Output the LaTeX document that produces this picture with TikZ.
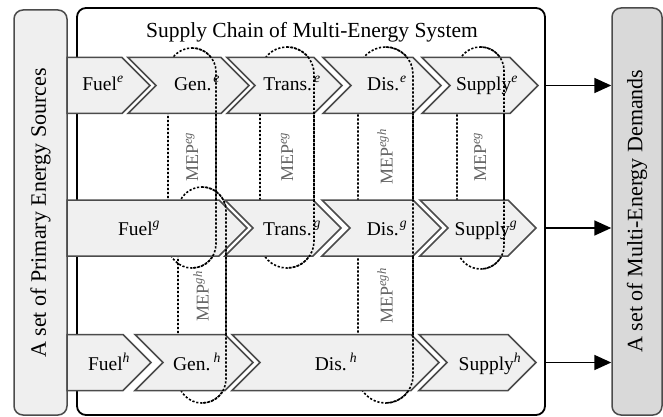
\documentclass[tikz,border=0pt]{standalone}
\usepackage{fontspec}
\setmainfont{Liberation Serif}
\usetikzlibrary{arrows.meta}
\definecolor{chevfill}{RGB}{240,240,240}
\definecolor{chevline}{RGB}{75,75,75}
\definecolor{srcfill}{RGB}{239,239,239}
\definecolor{demfill}{RGB}{217,217,217}
\definecolor{mepgray}{RGB}{100,100,100}
\newcommand\supit[1]{\textsuperscript{\itshape #1}}
% L R T B
\newcommand\chevnotch[4]{%
  \filldraw[chev] (#1,#3) -- (#2,#3) -- ({#2+(#4-#3)/2},{(#3+#4)/2}) -- (#2,#4) -- (#1,#4) -- ({#1+(#4-#3)/2},{(#3+#4)/2}) -- cycle;}
\newcommand\chevflat[4]{%
  \filldraw[chev] (#1,#3) -- (#2,#3) -- ({#2+(#4-#3)/2},{(#3+#4)/2}) -- (#2,#4) -- (#1,#4) -- cycle;}
% x1 x2 y1 y2 r
\newcommand\mepfull[5]{%
  \draw[mep, rounded corners=#5pt] (#1,#3) rectangle (#2,#4);}
\newcommand\mephalf[5]{%
  \draw[mep, rounded corners=#5pt] ({(#1+#2)/2},#3) -- (#2,#3) -- (#2,#4) -- ({(#1+#2)/2},#4);}
\begin{document}
\begin{tikzpicture}[x=1pt,y=-1pt,
  chev/.style={fill=chevfill, draw=chevline, line width=1.5pt, line join=miter},
  mep/.style={draw=black, line width=1.6pt, dash pattern=on 2.2pt off 1.8pt},
  ctext/.style={font=\fontsize{19.5}{22}\selectfont, inner sep=0pt, anchor=base},
  meplabel/.style={rotate=90, text=mepgray, font=\fontsize{18}{20}\selectfont, inner sep=0pt},
  sidetext/.style={rotate=90, font=\fontsize{22}{24}\selectfont, inner sep=0pt},
  sidebox/.style={draw=chevline, line width=1.5pt, rounded corners=9pt, inner sep=0pt},
  mainbox/.style={draw=black, fill=white, line width=1.8pt, rounded corners=9pt, inner sep=0pt},
  arr/.style={-{Triangle[length=17pt,width=15pt]}, line width=1.8pt}]
\useasboundingbox (0,0) rectangle (663,417);
% boxes
\node[mainbox, minimum width=468pt, minimum height=407pt] (sc) at (311,211.5) {};
\node[sidebox, fill=srcfill, minimum width=53pt, minimum height=405pt] (src) at (40.5,212.5) {};
\node[sidebox, fill=demfill, minimum width=50pt, minimum height=407pt] (dem) at (637,211.5) {};
\node[font=\fontsize{21.5}{24}\selectfont, inner sep=0pt, anchor=base] (title) at (312,37.5) {Supply Chain of Multi-Energy System};
% MEP regions (full, behind)
\mepfull{168}{216}{48}{268}{23.9}
\mepfull{260}{314}{47}{268}{26.9}
\mepfull{358}{413}{47}{403}{27.4}
\mepfull{457}{504}{47}{269}{23.4}
\mepfull{178}{226}{187}{403}{23.9}
% row 1
\chevflat{67}{122}{57.5}{113.5}
\chevnotch{128}{221}{57.5}{113.5}
\chevnotch{227}{314}{57.5}{113.5}
\chevnotch{323}{413}{57.5}{113.5}
\chevnotch{422}{510}{57.5}{113.5}
% row 2
\chevflat{67}{219}{200}{256}
\chevnotch{225}{313}{200}{256}
\chevnotch{322}{413}{200}{256}
\chevnotch{420}{508}{200}{256}
% row 3
\chevflat{67}{123}{334.5}{390.5}
\chevnotch{135}{225}{334.5}{390.5}
\chevnotch{232}{411}{334.5}{390.5}
\chevnotch{419}{508}{334.5}{390.5}
% MEP regions (right halves, in front)
\mephalf{168}{216}{48}{268}{23.9}
\mephalf{260}{314}{47}{268}{26.9}
\mephalf{358}{413}{47}{403}{27.4}
\mephalf{457}{504}{47}{269}{23.4}
\mephalf{178}{226}{187}{403}{23.9}
% chevron texts
\node[ctext] (fe) at (103,90.5) {Fuel\supit{e}};
\node[ctext] (ge) at (197,90.5) {Gen.\kern2pt\supit{e}};
\node[ctext] (te) at (292,90.5) {Trans.\kern2pt\supit{e}};
\node[ctext] (de) at (387,90.5) {Dis.\kern1pt\supit{e}};
\node[ctext] (se) at (487,90.5) {Supply\supit{e}};
\node[ctext] (fg) at (139,235.5) {Fuel\supit{g}};
\node[ctext] (tg) at (292,235.5) {Trans.\kern2pt\supit{g}};
\node[ctext] (dg) at (387,235.5) {Dis.\kern1pt\supit{g}};
\node[ctext] (sg) at (486,235.5) {Supply\supit{g}};
\node[ctext] (fh) at (109,370) {Fuel\supit{h}};
\node[ctext] (gh) at (197,370) {Gen.\kern3pt\supit{h}};
\node[ctext] (dh) at (336,370) {Dis.\kern3pt\supit{h}};
\node[ctext] (sh) at (490,370) {Supply\supit{h}};
% MEP labels
\node[meplabel] (m1) at (192,157) {MEP\supit{eg}};
\node[meplabel] (m2) at (287,157) {MEP\supit{eg}};
\node[meplabel] (m3) at (385,157) {MEP\supit{egh}};
\node[meplabel] (m4) at (480,157) {MEP\supit{eg}};
\node[meplabel] (m5) at (201,296) {MEP\supit{gh}};
\node[meplabel] (m6) at (385,296) {MEP\supit{egh}};
% side texts
\node[sidetext] (srct) at (40.5,213) {A set of Primary Energy Sources};
\node[sidetext] (demt) at (637,211) {A set of Multi-Energy Demands};
% arrows
\coordinate (r1) at (0,85.5);
\coordinate (r2) at (0,228);
\coordinate (r3) at (0,362.5);
\draw[arr] (sc.east |- r1) -- (dem.west |- r1);
\draw[arr] (sc.east |- r2) -- (dem.west |- r2);
\draw[arr] (sc.east |- r3) -- (dem.west |- r3);
\end{tikzpicture}
\end{document}
